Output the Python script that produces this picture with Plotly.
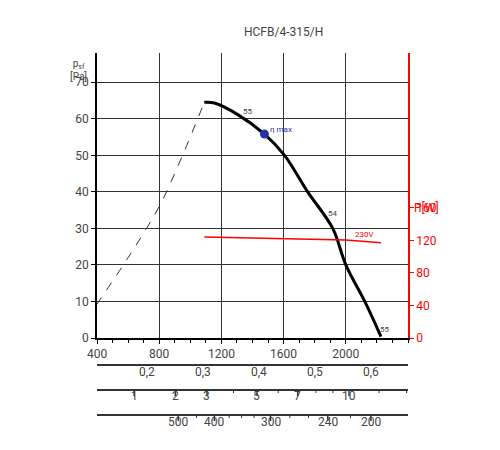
import numpy as np
import plotly.graph_objects as go

# fan curve (m3/h, Pa)
curve_q = [1090, 1155, 1303, 1477, 1606, 1755, 1916, 2000, 2122, 2226]
curve_p = [64.5, 64.3, 61.2, 55.8, 50.0, 40.0, 30.0, 20.0, 10.0, 0.4]
dash_q = [395, 600, 800, 950, 1090]
dash_p = [9, 22, 36, 50, 64.5]
# power (W)
pow_q = [1090, 1600, 2000, 2226]
pow_w = [124, 122.5, 120.5, 117]
eta_q, eta_p = 1477, 55.8

qs_ticks = [0.2, 0.3, 0.4, 0.5, 0.6]
pg_labels = [1, 2, 3, 5, 7, 10]
pg_minor = [4, 6, 8, 9, 12, 14]
sfp_labels = [500, 400, 300, 240, 200]
sfp_pos = [922, 1155, 1516, 1884, 2161]
sfp_minor_pos = [1040, 1250, 1330, 1410, 1640, 1760, 2030]

FONT = "Roboto"
GREY = "#444"
Y_MAX = 78
RATIO = 4.49  # W per Pa of plot height

fig = go.Figure()
fig.add_trace(go.Scatter(x=dash_q, y=dash_p, mode="lines", line=dict(color="#333", width=1, dash="dash", shape="spline"), hoverinfo="skip"))
fig.add_trace(go.Scatter(x=curve_q, y=curve_p, mode="lines", line=dict(color="black", width=3, shape="spline"), hoverinfo="skip"))
fig.add_trace(go.Scatter(x=pow_q, y=pow_w, mode="lines", yaxis="y2", line=dict(color="red", width=1.5), hoverinfo="skip"))
fig.add_trace(go.Scatter(x=[eta_q], y=[eta_p], mode="markers", marker=dict(color="#2233aa", size=9), hoverinfo="skip"))

def ann(x, y, t, **kw):
    d = dict(x=x, y=y, text=t, showarrow=False, font=dict(family=FONT, size=kw.pop("size", 12), color=kw.pop("color", GREY)))
    d.update(kw)
    fig.add_annotation(**d)

ann(1370, 62, "55", size=8)
ann(1916, 34, "54", size=8)
ann(2250, 2.4, "55", size=8)
ann(2122, 28.2, "230V", size=8, color="red")
ann(eta_q + 20, eta_p + 1.2, "η max", size=8, color="#2233aa", xanchor="left")

# bottom scales in paper coords
def py(pix):
    return (330 - pix) / 285

shapes = []
for ypix in (357, 382, 407):
    shapes.append(dict(type="line", xref="x", yref="paper", x0=400, x1=2400, y0=py(ypix), y1=py(ypix), line=dict(color="#333", width=2)))

for q in qs_ticks:
    ann(q * 3600, py(373), f"{q}".replace(".", ","), yref="paper", size=12)
for p in pg_labels:
    x = 639 * np.sqrt(p)
    ann(x, py(397), str(p), yref="paper", size=12)
    shapes.append(dict(type="line", xref="x", yref="paper", x0=x, x1=x, y0=py(382), y1=py(388), line=dict(color="#333", width=1.5)))
for p in pg_minor:
    x = 639 * np.sqrt(p)
    shapes.append(dict(type="line", xref="x", yref="paper", x0=x, x1=x, y0=py(382), y1=py(385), line=dict(color="#333", width=1)))
for s, x in zip(sfp_labels, sfp_pos):
    ann(x, py(423), str(s), yref="paper", size=12)
    shapes.append(dict(type="line", xref="x", yref="paper", x0=x, x1=x, y0=py(407), y1=py(413), line=dict(color="#333", width=1.5)))
for x in sfp_minor_pos:
    shapes.append(dict(type="line", xref="x", yref="paper", x0=x, x1=x, y0=py(407), y1=py(410), line=dict(color="#333", width=1)))

ann(2410, py(347), "q<sub>v</sub> [m<sup>3</sup>/h]", yref="paper", xanchor="left", size=11)
ann(2410, py(373), "q<sub>v</sub> [m<sup>3</sup>/s]", yref="paper", xanchor="left", size=11)
ann(2410, py(397), "p<sub>g</sub>[Pa]", yref="paper", xanchor="left", size=11)
ann(2410, py(422), "SFP", yref="paper", xanchor="left", size=12)
ann(2410, py(438), "[W/m<sup>3</sup>/s]", yref="paper", xanchor="left", size=9)
ann(0.6, py(15), "HCFB/4-315/H", xref="paper", yref="paper", size=12)
ann(400, py(48), "p<sub>sf</sub><br>[Pa]", yref="paper", xanchor="right", xshift=-8, size=10)
ann(2400, 35.5, "P[W]", xanchor="left", xshift=4, size=12, color="red")

fig.update_layout(
    width=500, height=450, showlegend=False, plot_bgcolor="white", paper_bgcolor="white",
    margin=dict(l=89, r=100, t=45, b=120), shapes=shapes,
    font=dict(family=FONT, color=GREY),
    xaxis=dict(range=[400, 2400], tickvals=[400, 800, 1200, 1600, 2000], showgrid=True, gridcolor="#333", gridwidth=1,
               showline=True, linecolor="black", linewidth=2, ticks="outside", ticklen=4, tickcolor="black",
               minor=dict(dtick=100, ticks="outside", ticklen=3, tickcolor="black"), tickfont=dict(size=12), zeroline=False),
    yaxis=dict(range=[0, Y_MAX], tickvals=list(range(0, 80, 10)), showgrid=True, gridcolor="#333", gridwidth=1,
               showline=True, linecolor="black", linewidth=1.5, ticks="outside", ticklen=4, tickcolor="black", zeroline=False, tickfont=dict(size=12)),
    yaxis2=dict(overlaying="y", side="right", range=[0, Y_MAX * RATIO], tickvals=[0, 40, 80, 120, 160], showgrid=False,
                showline=True, linecolor="red", linewidth=1.5, ticks="outside", ticklen=4, tickcolor="red",
                tickfont=dict(size=12, color="red"), zeroline=False),
)

fig.write_html("out.html")
